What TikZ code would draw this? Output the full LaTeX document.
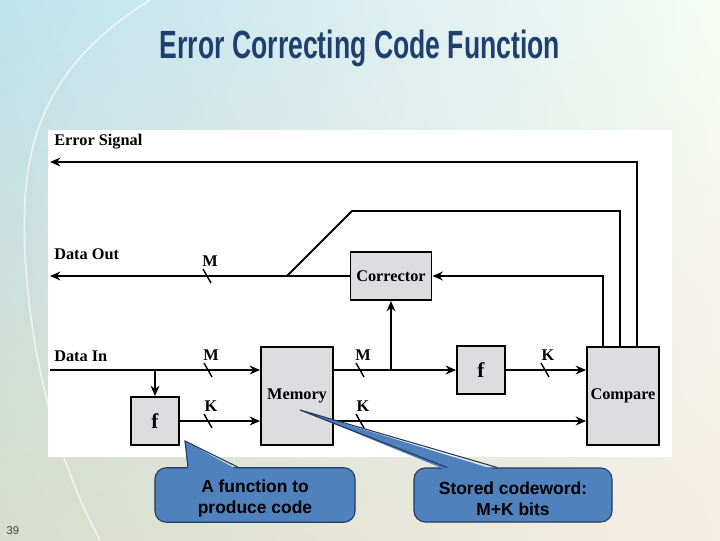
\documentclass[tikz,border=0pt]{standalone}
\usepackage{fontspec}
\setmainfont{Liberation Serif}
\newfontfamily\arialfont{Liberation Sans}
\usetikzlibrary{arrows.meta,shadings}

\definecolor{titleblue}{RGB}{31,63,112}
\definecolor{boxgrey}{RGB}{221,221,224}
\definecolor{callblue}{RGB}{79,129,189}
\definecolor{callline}{RGB}{38,58,98}
\definecolor{bgul}{RGB}{190,226,237}
\definecolor{bgur}{RGB}{246,251,244}
\definecolor{bgll}{RGB}{216,221,203}
\definecolor{bglr}{RGB}{244,238,229}

\tikzset{
  wire/.style={line width=1.3pt},
  blk/.style={draw, line width=1.3pt, fill=boxgrey, inner sep=0pt,
    font=\fontsize{11.6}{13}\selectfont\bfseries},
  lbl/.style={inner sep=0pt, font=\fontsize{11.6}{13}\selectfont\bfseries},
  bubble/.style={draw=callline, line width=0.8pt, fill=callblue, rounded corners=8pt,
    minimum width=5cm, minimum height=1.35cm, align=center,
    font=\arialfont\fontsize{12.4}{15}\selectfont\bfseries},
}

\begin{document}
\begin{tikzpicture}[x=0.025cm, y=-0.025cm, >={Stealth[length=2.6mm,width=2.2mm]}]
\useasboundingbox (0,0) rectangle (720,540);

% slide background
\shade[upper left=bgul, upper right=bgur, lower left=bgll, lower right=bglr] (0,0) rectangle (720,540);
\draw[white, line width=1.2pt, opacity=0.6] (150,0) .. controls (70,50) and (30,110) .. (25,200)
  .. controls (20,300) and (45,440) .. (100,540);
\fill[white] (48,130) rectangle (672,457);

% title and page number
\node[font=\arialfont\bfseries\fontsize{28}{32}\selectfont, text=titleblue] (ttl) at (360,48)
  {\scalebox{0.675}[1]{Error Correcting Code Function}};
\node[font=\arialfont\fontsize{8}{9}\selectfont, text=black!75] (pgno) at (13,531) {39};

% blocks
\node[blk, minimum width=2.025cm, minimum height=1.2cm] (corr) at (391,276) {Corrector};
\node[blk, minimum width=1.8cm, minimum height=2.45cm] (mem) at (297,396) {Memory};
\node[blk, minimum width=1.2cm, minimum height=1.2cm, font=\fontsize{15}{16}\selectfont\bfseries] (fin) at (155,421) {f};
\node[blk, minimum width=1.2cm, minimum height=1.2cm, font=\fontsize{15}{16}\selectfont\bfseries] (fout) at (481,370) {f};
\node[blk, minimum width=1.8cm, minimum height=2.45cm] (cmp) at (623,396) {Compare};

% signal names
\node[lbl, anchor=west] (errlbl) at (54,142) {Error Signal};
\node[lbl, anchor=west] (outlbl) at (54,254) {Data Out};
\node[lbl, anchor=west] (inlbl) at (54,356) {Data In};

\coordinate (errend) at (50,162);
\coordinate (outend) at (50,276);
\coordinate (instart) at (50,370);
\coordinate (knee) at (352,211);
\coordinate (kink) at (287,276);
\coordinate (tap1) at (fin.north |- instart);

% connections
\draw[wire,->] ([xshift=0.35cm]cmp.north) |- (errend);
\draw[wire] ([xshift=-0.075cm]cmp.north) |- (knee) -- (kink);
\draw[wire,->] ([xshift=-0.5cm]cmp.north) |- (corr.east);
\draw[wire,->] (corr.west) -- (outend);
\draw[wire,->] (instart) -- (instart -| mem.west);
\draw[wire,->] (tap1) -- (fin.north);
\draw[wire,->] (fin.east) -- (fin.east -| mem.west);
\draw[wire,->] (mem.east |- fout.west) -- (fout.west);
\draw[wire,->] (corr.south |- fout.west) -- (corr.south);
\draw[wire,->] (fout.east) -- (fout.east -| cmp.west);
\draw[wire,->] (mem.east |- fin.east) -- (fin.east -| cmp.west);

% bus widths
\foreach \x/\y/\t [count=\i] in {207/276/M, 208/370/M, 208/421/K, 360/370/M, 360/421/K, 545/370/K}{
  \draw[line width=1pt] (\x-4,\y-7) -- (\x+4,\y+7);
  \node[lbl] (bw\i) at (\x+3,\y-15) {\t};
}

% callouts
\node[bubble] (note1) at (255,495) {\rule{0pt}{14.5pt}A function to\\produce code};
\node[bubble, minimum width=4.95cm] (note2) at (513,495) {\rule{0pt}{14.5pt}Stored codeword:\\M+K bits};
\coordinate (tip1) at (185,441);
\coordinate (tip2) at (300,410);
\fill[callblue] (tip1) -- ([xshift=-1.675cm,yshift=-2pt]note1.north) -- ([xshift=-0.425cm,yshift=-2pt]note1.north) -- cycle;
\draw[callline, line width=0.8pt] ([xshift=-1.675cm]note1.north) -- (tip1) -- ([xshift=-0.425cm]note1.north);
\fill[callblue] (tip2) -- ([xshift=-1.65cm,yshift=-2pt]note2.north) -- ([xshift=-0.4cm,yshift=-2pt]note2.north) -- cycle;
\draw[callline, line width=0.8pt] ([xshift=-1.65cm]note2.north) -- (tip2) -- ([xshift=-0.4cm]note2.north);

\end{tikzpicture}
\end{document}
